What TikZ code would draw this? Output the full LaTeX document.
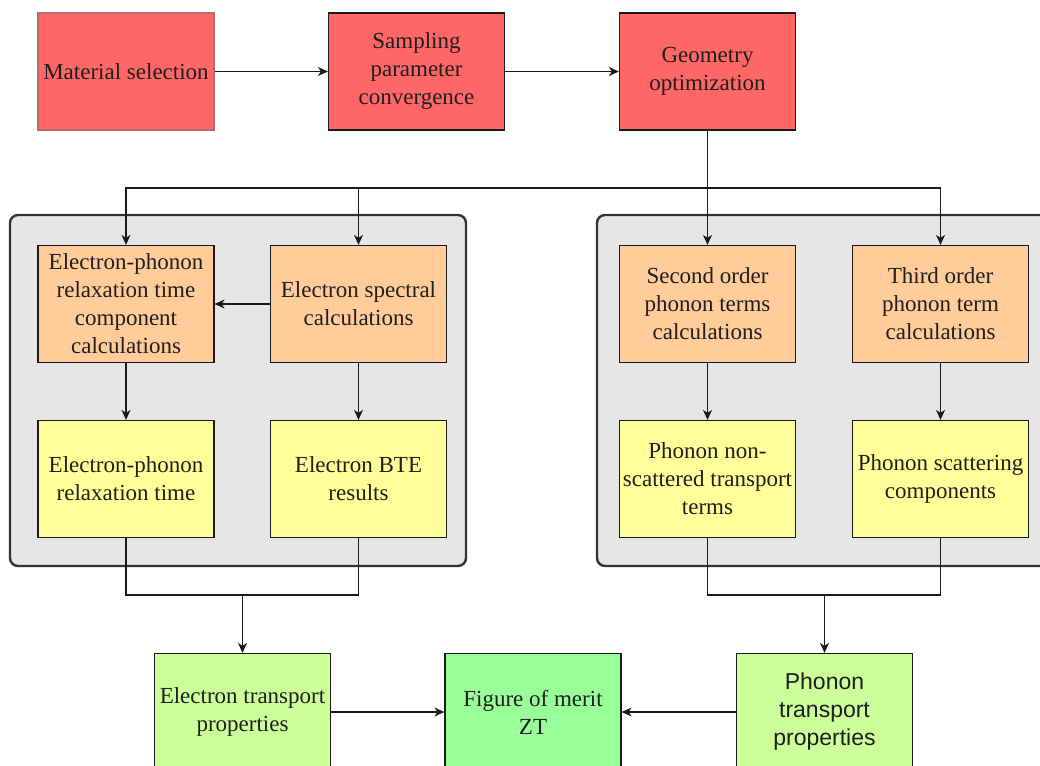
\documentclass[tikz,border=0pt]{standalone}
\usepackage{fontspec}
\setmainfont{Liberation Serif}
\newfontfamily\sansarial{Liberation Sans}
\usetikzlibrary{arrows.meta}
\definecolor{cred}{HTML}{FF6666}
\definecolor{credline}{HTML}{B86A6A}
\definecolor{corange}{HTML}{FFCC99}
\definecolor{cyellow}{HTML}{FFFF99}
\definecolor{clime}{HTML}{CCFF99}
\definecolor{cgreen}{HTML}{99FF99}
\definecolor{cpanel}{HTML}{E6E6E6}
\definecolor{cline}{HTML}{1A1A1A}
\begin{document}
\begin{tikzpicture}[x=1pt,y=-1pt,
  box/.style={draw=cline, line width=1.2pt, minimum width=176pt, minimum height=117pt,
    inner sep=0pt, align=center, font=\fontsize{23}{28}\selectfont, text=black!88},
  redbox/.style={box, fill=cred},
  orangebox/.style={box, fill=corange},
  yellowbox/.style={box, fill=cyellow},
  limebox/.style={box, fill=clime},
  greenbox/.style={box, fill=cgreen},
  panel/.style={draw=black!80, line width=2.4pt, fill=cpanel, rounded corners=8pt},
  conn/.style={draw=cline, line width=1.2pt},
  arr/.style={conn, -{Stealth[length=10pt,width=9pt,inset=3pt]}}
]
\useasboundingbox (0,0) rectangle (1040,765);
\clip (0,0) rectangle (1040,765);

% panels
\path[panel] (10,215) rectangle (466,566);
\path[panel] (597,215) rectangle (1064,566);

% top row
\node[redbox, draw=credline] (mat) at (126,71.5) {Material selection};
\node[redbox] (samp) at (416.5,71.5) {Sampling\\parameter\\convergence};
\node[redbox] (geo) at (707.5,71.5) {Geometry\\optimization};

% panel boxes
\node[orangebox] (eprc) at (126,304) {Electron-phonon\\relaxation time\\component\\calculations};
\node[orangebox] (esp) at (358.5,304) {Electron spectral\\calculations};
\node[orangebox] (so) at (707.5,304) {Second order\\phonon terms\\calculations};
\node[orangebox] (to) at (940.5,304) {Third order\\phonon term\\calculations};

\node[yellowbox] (eprt) at (126,479) {Electron-phonon\\relaxation time};
\node[yellowbox] (ebte) at (358.5,479) {Electron BTE\\results};
\node[yellowbox] (pnst) at (707.5,479) {Phonon non-\\scattered transport\\terms};
\node[yellowbox] (psc) at (940.5,479) {Phonon scattering\\components};

% bottom row
\node[limebox] (etp) at (242.5,712) {Electron transport\\properties};
\node[greenbox] (fom) at (533,712) {Figure of merit\\ZT};
\node[limebox, font=\sansarial\fontsize{23}{28}\selectfont] (ptp) at (824.5,712) {Phonon\\transport\\properties};

% connectors
\draw[arr] (mat.east) -- (samp.west);
\draw[arr] (samp.east) -- (geo.west);

\coordinate (bus) at (707.5,188);
\draw[arr] (geo.south) -- (so.north);
\draw[arr] (bus) -| (eprc.north);
\draw[arr] (bus) -| (esp.north);
\draw[arr] (bus) -| (to.north);

\draw[arr] (esp.west) -- (eprc.east);
\draw[arr] (eprc.south) -- (eprt.north);
\draw[arr] (esp.south) -- (ebte.north);
\draw[arr] (so.south) -- (pnst.north);
\draw[arr] (to.south) -- (psc.north);

\coordinate (lm) at (242.5,595);
\coordinate (rm) at (824.5,595);
\draw[conn] (eprt.south) |- (lm) -| (ebte.south);
\draw[arr] (lm) -- (etp.north);
\draw[conn] (pnst.south) |- (rm) -| (psc.south);
\draw[arr] (rm) -- (ptp.north);

\draw[arr] (etp.east) -- (fom.west);
\draw[arr] (ptp.west) -- (fom.east);
\end{tikzpicture}
\end{document}
